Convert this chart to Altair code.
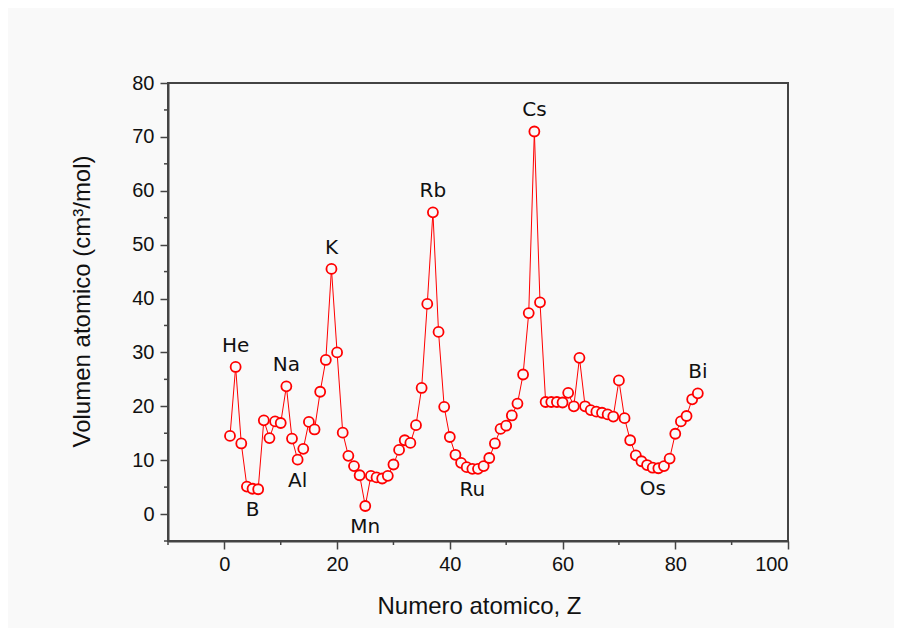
import altair as alt
import pandas as pd

Z = [1, 2, 3, 4, 5, 6, 7, 8, 9, 10, 11, 12, 13, 14, 15, 16, 17, 18, 19, 20,
     21, 22, 23, 24, 25, 26, 27, 28, 29, 30, 31, 32, 33, 34, 35, 36, 37, 38, 39, 40,
     41, 42, 43, 44, 45, 46, 47, 48, 49, 50, 51, 52, 53, 54, 55, 56, 57, 58, 59, 60,
     61, 62, 63, 64, 65, 66, 67, 68, 69, 70, 71, 72, 73, 74, 75, 76, 77, 78, 79, 80,
     81, 82, 83, 84]
volumen = [14.5, 27.3, 13.1, 5.1, 4.7, 4.6, 17.4, 14.1, 17.2, 16.9,
           23.7, 14.0, 10.1, 12.1, 17.1, 15.7, 22.7, 28.6, 45.5, 30.0,
           15.1, 10.8, 8.9, 7.2, 1.5, 7.1, 6.8, 6.6, 7.1, 9.2,
           11.9, 13.7, 13.2, 16.5, 23.4, 39.0, 56.0, 33.8, 19.9, 14.3,
           11.0, 9.5, 8.7, 8.4, 8.4, 8.9, 10.4, 13.1, 15.8, 16.4,
           18.3, 20.5, 25.9, 37.3, 71.0, 39.3, 20.8, 20.8, 20.8, 20.7,
           22.5, 20.0, 29.0, 20.0, 19.3, 19.0, 18.8, 18.5, 18.1, 24.8,
           17.8, 13.7, 10.9, 9.8, 9.1, 8.6, 8.5, 8.9, 10.3, 14.9,
           17.2, 18.2, 21.3, 22.4]

labels_above = ["He", "Na", "K", "Rb", "Cs", "Bi"]
labels_above_Z = [2, 11, 19, 37, 55, 84]
labels_below = ["B", "Al", "Mn", "Ru", "Os"]
labels_below_Z = [5, 13, 25, 44, 76]

x_major = [0, 20, 40, 60, 80, 100]
x_minor = [-10, 10, 30, 50, 70, 90]
y_major = [0, 10, 20, 30, 40, 50, 60, 70, 80]
y_minor = [-5, 5, 15, 25, 35, 45, 55, 65, 75]

W, H = 620, 458

df = pd.DataFrame({"Z": Z, "V": volumen})
vmap = dict(zip(Z, volumen))
df_above = pd.DataFrame({"Z": labels_above_Z, "V": [vmap[z] for z in labels_above_Z], "t": labels_above})
df_below = pd.DataFrame({"Z": labels_below_Z, "V": [vmap[z] for z in labels_below_Z], "t": labels_below})
df_xminor = pd.DataFrame({"Z": x_minor})
df_yminor = pd.DataFrame({"V": y_minor})

xscale = alt.Scale(domain=[-10, 100], nice=False, zero=False)
yscale = alt.Scale(domain=[-5, 80], nice=False, zero=False)

xaxis = alt.Axis(
    values=x_major, tickSize=8,
    title="Numero atomico, Z",
    titleX=311, titleY=65, titleBaseline="middle",
    labelPadding=5, grid=False,
)
yaxis = alt.Axis(
    values=y_major, tickSize=8,
    title="Volumen atomico (cm³/mol)",
    titleX=-86, titleY=218, titleBaseline="middle", titleAngle=-90, titleAlign="center",
    labelPadding=6, grid=False,
)

x = alt.X("Z:Q", scale=xscale, axis=xaxis)
y = alt.Y("V:Q", scale=yscale, axis=yaxis)

line = alt.Chart(df).mark_line(color="#ff0000", strokeWidth=1).encode(x=x, y=y)
pts = alt.Chart(df).mark_point(
    shape="circle", size=100, filled=False, stroke="#ff0000", strokeWidth=1.8,
    fill="#f9f9f9", fillOpacity=1, opacity=1
).encode(x=alt.X("Z:Q", scale=xscale), y=alt.Y("V:Q", scale=yscale))

xminor = alt.Chart(df_xminor).mark_rule(color="#444444", strokeWidth=1.5).encode(
    x=alt.X("Z:Q", scale=xscale), y=alt.value(H), y2=alt.value(H + 4))
yminor = alt.Chart(df_yminor).mark_rule(color="#444444", strokeWidth=1.5).encode(
    y=alt.Y("V:Q", scale=yscale), x=alt.value(0), x2=alt.value(-4))

txt_style = dict(font="DejaVu Sans", fontSize=20, color="#111111", align="center", baseline="middle")
above = alt.Chart(df_above).mark_text(dy=-21, **txt_style).encode(
    x=alt.X("Z:Q", scale=xscale), y=alt.Y("V:Q", scale=yscale), text="t:N")
below = alt.Chart(df_below).mark_text(dy=21, **txt_style).encode(
    x=alt.X("Z:Q", scale=xscale), y=alt.Y("V:Q", scale=yscale), text="t:N")

chart = alt.layer(line, pts, xminor, yminor, above, below).properties(
    width=W, height=H,
    padding={"left": 160, "top": 75, "right": 106, "bottom": 87},
    autosize=alt.AutoSizeParams(type="none"),
    background="#f9f9f9",
).configure_view(
    stroke="#444444", strokeWidth=2
).configure_axis(
    labelFont="Liberation Sans", labelFontSize=20, labelColor="#111111",
    titleFont="Liberation Sans", titleFontSize=24, titleFontWeight="normal", titleColor="#111111",
    domainColor="#444444", domainWidth=2, tickColor="#444444", tickWidth=1.5,
)

chart.save("out.html", embed_options={"renderer": "svg", "actions": False})
